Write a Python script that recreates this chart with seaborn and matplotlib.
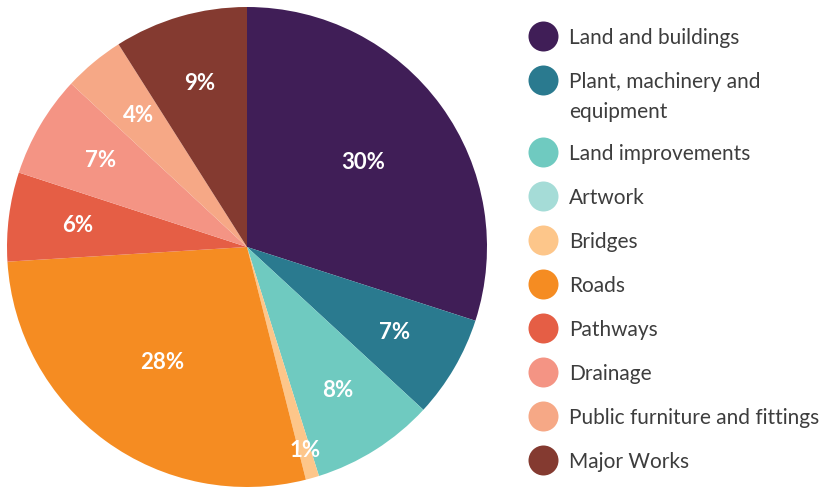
import matplotlib
matplotlib.use("Agg")
import matplotlib.pyplot as plt
import seaborn as sns

# categories and shares (%)
categories = ["Land and buildings", "Plant, machinery and\nequipment", "Land improvements",
              "Artwork", "Bridges", "Roads", "Pathways", "Drainage",
              "Public furniture and fittings", "Major Works"]
shares = [30.0, 6.9, 8.3, 0.0, 0.9, 28.0, 6.0, 6.9, 4.1, 9.0]
colors = ["#401e57", "#2a7a8f", "#6fcac0", "#a5dcd7", "#fdc68a",
          "#f58c22", "#e55e45", "#f49484", "#f6a886", "#843a30"]

sns.set_theme(style="white")
plt.rcParams["font.family"] = ["Lato", "DejaVu Sans"]

W, H = 834, 487
fig = plt.figure(figsize=(W / 100, H / 100), dpi=100)

# pie
ax = fig.add_axes([7 / W, 0, 480 / W, 480 / H])
pal = sns.color_palette(colors)
wedges, _, autotexts = ax.pie(
    shares, colors=pal, startangle=90, counterclock=False,
    autopct=lambda p: f"{p:.0f}%" if p > 0.5 else "",
    pctdistance=0.71, radius=1.0,
    textprops=dict(color="white", fontsize=16, fontweight="bold"),
    wedgeprops=dict(linewidth=0),
)
for t, v in zip(autotexts, shares):
    x, y = t.get_position()
    if v > 20:
        t.set_position((x * 0.84, y * 0.84))
    elif v < 2:
        t.set_position((x * 1.24, y * 1.24))
ax.set_xlim(-1, 1)
ax.set_ylim(-1, 1)
ax.set_aspect("equal")
ax.axis("off")

# legend, laid out row by row
lax = fig.add_axes([0, 0, 1, 1])
lax.set_xlim(0, W)
lax.set_ylim(H, 0)
lax.axis("off")
y = 36
for lab, c in zip(categories, colors):
    lax.scatter([543], [y], s=(30 * 0.72) ** 2, color=c, linewidths=0)
    # first line of text centred on the marker
    lax.text(569, y - 8, lab, va="top", ha="left", fontsize=15, color="#3d3d3d",
             linespacing=1.65)
    y += 44 + 28 * lab.count("\n")

fig.savefig("out.png", dpi=100)
